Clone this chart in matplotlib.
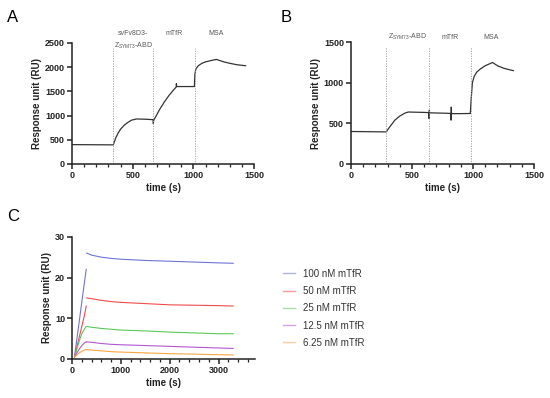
import matplotlib
matplotlib.use("Agg")
import matplotlib.pyplot as plt
import matplotlib.ticker as mticker
import matplotlib.colors as mcolors

plt.rcParams["font.family"] = ["Liberation Sans", "DejaVu Sans"]

# panel A: sensorgram
a_time = [0, 340, 345, 360, 380, 400, 430, 460, 490, 530, 560, 600, 640, 668, 670, 672,
          690, 720, 760, 800, 840, 858, 860, 862, 900, 950, 1008, 1012, 1020, 1040,
          1070, 1100, 1150, 1190, 1250, 1300, 1360, 1430]
a_resp = [400, 395, 430, 540, 640, 720, 800, 860, 905, 930, 928, 925, 920, 915, 830, 900,
          980, 1120, 1280, 1420, 1540, 1590, 1660, 1600, 1600, 1600, 1600, 1850, 1960, 2030,
          2080, 2110, 2140, 2160, 2110, 2080, 2050, 2030]
a_inject = [340, 670, 1010]
a_labels = [("svFv8D3-\nZ$_\\mathregular{SYM73}$-ABD", 505), ("mTfR", 840), ("MSA", 1190)]

# panel B: sensorgram
b_time = [0, 290, 300, 330, 360, 400, 440, 470, 520, 600, 638, 640, 642, 644, 700, 780,
          818, 820, 822, 824, 900, 978, 985, 995, 1010, 1030, 1060, 1100, 1160, 1200,
          1250, 1300, 1330]
b_resp = [400, 395, 420, 480, 540, 590, 625, 640, 638, 635, 632, 560, 660, 630, 628, 625,
          622, 540, 700, 620, 620, 622, 800, 1000, 1080, 1130, 1170, 1210, 1250, 1210,
          1180, 1160, 1150]
b_inject = [290, 640, 980]
b_labels = [("Z$_\\mathregular{SYM73}$-ABD", 460), ("mTfR", 810), ("MSA", 1150)]

# panel C: mTfR titration
c_names = ["100 nM mTfR", "50 nM mTfR", "25 nM mTfR", "12.5 nM mTfR", "6.25 nM mTfR"]
c_colors = ["#6f74d6", "#f24a4a", "#5ac85a", "#b455d2", "#f9a545"]
c_t_assoc = [50, 100, 150, 200, 250, 290]
c_assoc = [
    [0.5, 5, 9.5, 14, 18.5, 22],
    [0.5, 3, 5.5, 8, 10.5, 13],
    [0.5, 2.5, 4.5, 6.2, 7.3, 8],
    [0.5, 1.5, 2.5, 3.3, 3.9, 4.2],
    [0.5, 1.0, 1.5, 1.9, 2.2, 2.3],
]
c_t_diss = [300, 400, 600, 800, 1000, 1500, 2000, 2500, 3000, 3300]
c_diss = [
    [26, 25.5, 25, 24.7, 24.5, 24.2, 24, 23.8, 23.6, 23.5],
    [15, 14.8, 14.4, 14.1, 13.9, 13.6, 13.3, 13.2, 13.1, 13.0],
    [8, 7.8, 7.5, 7.3, 7.1, 6.9, 6.6, 6.4, 6.2, 6.2],
    [4.2, 4.1, 3.8, 3.6, 3.5, 3.3, 3.1, 2.9, 2.7, 2.6],
    [2.3, 2.2, 2.0, 1.8, 1.7, 1.5, 1.3, 1.2, 1.05, 1.0],
]

fig = plt.figure(figsize=(5.5, 3.98), dpi=100)


def style(ax, xmax, xmajor, xminor, ymax, ymajor):
    ax.set_xlim(0, xmax)
    ax.set_ylim(0, ymax)
    ax.xaxis.set_major_locator(mticker.MultipleLocator(xmajor))
    ax.xaxis.set_minor_locator(mticker.MultipleLocator(xminor))
    ax.yaxis.set_major_locator(mticker.MultipleLocator(ymajor))
    for s in ["top", "right"]:
        ax.spines[s].set_visible(False)
    for s in ["left", "bottom"]:
        ax.spines[s].set_linewidth(1.1)
        ax.spines[s].set_color("#222222")
    ax.tick_params(which="major", length=3.5, width=1.1, labelsize=6.5, pad=1.5, color="#222222")
    ax.tick_params(which="minor", length=2, width=0.9, color="#222222")
    for lab in ax.get_xticklabels() + ax.get_yticklabels():
        lab.set_fontweight("bold")
        lab.set_color("#222222")
    ax.set_xlabel("time (s)", fontsize=7, fontweight="bold", labelpad=2, color="#222222")
    ax.set_ylabel("Response unit (RU)", fontsize=7, fontweight="bold", labelpad=2, color="#222222")


def sensorgram(ax, t, r, inject, ymax):
    ax.plot(t, r, color="#333333", lw=0.9)
    for x in inject:
        ax.plot([x, x], [0, ymax * 0.96], ls=(0, (1.5, 1.5)), color="#999999", lw=0.6)


def lighten(c, f=0.45):
    r, g, b = mcolors.to_rgb(c)
    return (r + (1 - r) * f, g + (1 - g) * f, b + (1 - b) * f)


ax_a = fig.add_axes([0.131, 0.588, 0.331, 0.304])
sensorgram(ax_a, a_time, a_resp, a_inject, 2500)
for txt, x in a_labels:
    ax_a.text(x, 2770, txt, fontsize=5, color="#555555", ha="center", va="top",
              linespacing=1.55, clip_on=False)
style(ax_a, 1500, 500, 100, 2500, 500)

ax_b = fig.add_axes([0.638, 0.588, 0.333, 0.306])
sensorgram(ax_b, b_time, b_resp, b_inject, 1500)
for txt, x in b_labels:
    ax_b.text(x, 1560, txt, fontsize=5, color="#555555", ha="center", va="center",
              clip_on=False)
style(ax_b, 1500, 500, 100, 1500, 500)

ax_c = fig.add_axes([0.131, 0.098, 0.333, 0.307])
for name, col, ya, yd in zip(c_names, c_colors, c_assoc, c_diss):
    ax_c.plot(c_t_assoc, ya, color=col, lw=0.8)
    ax_c.plot(c_t_diss, yd, color=col, lw=0.8, label=name)
style(ax_c, 3750, 1000, 200, 30, 10)

handles, labels = ax_c.get_legend_handles_labels()
leg = fig.legend(handles, labels, loc="upper left", bbox_to_anchor=(0.515, 0.325),
                 frameon=False, fontsize=7, handlelength=1.25, handletextpad=0.8,
                 labelspacing=0.75, borderpad=0, borderaxespad=0)
for line, col in zip(leg.get_lines(), c_colors):
    line.set_color(lighten(col))
    line.set_linewidth(1.0)
for t in leg.get_texts():
    t.set_color("#333333")

fig.text(0.013, 0.975, "A", fontsize=12, va="top")
fig.text(0.51, 0.975, "B", fontsize=12, va="top")
fig.text(0.013, 0.475, "C", fontsize=12, va="top")

fig.savefig("out.png", dpi=100)
